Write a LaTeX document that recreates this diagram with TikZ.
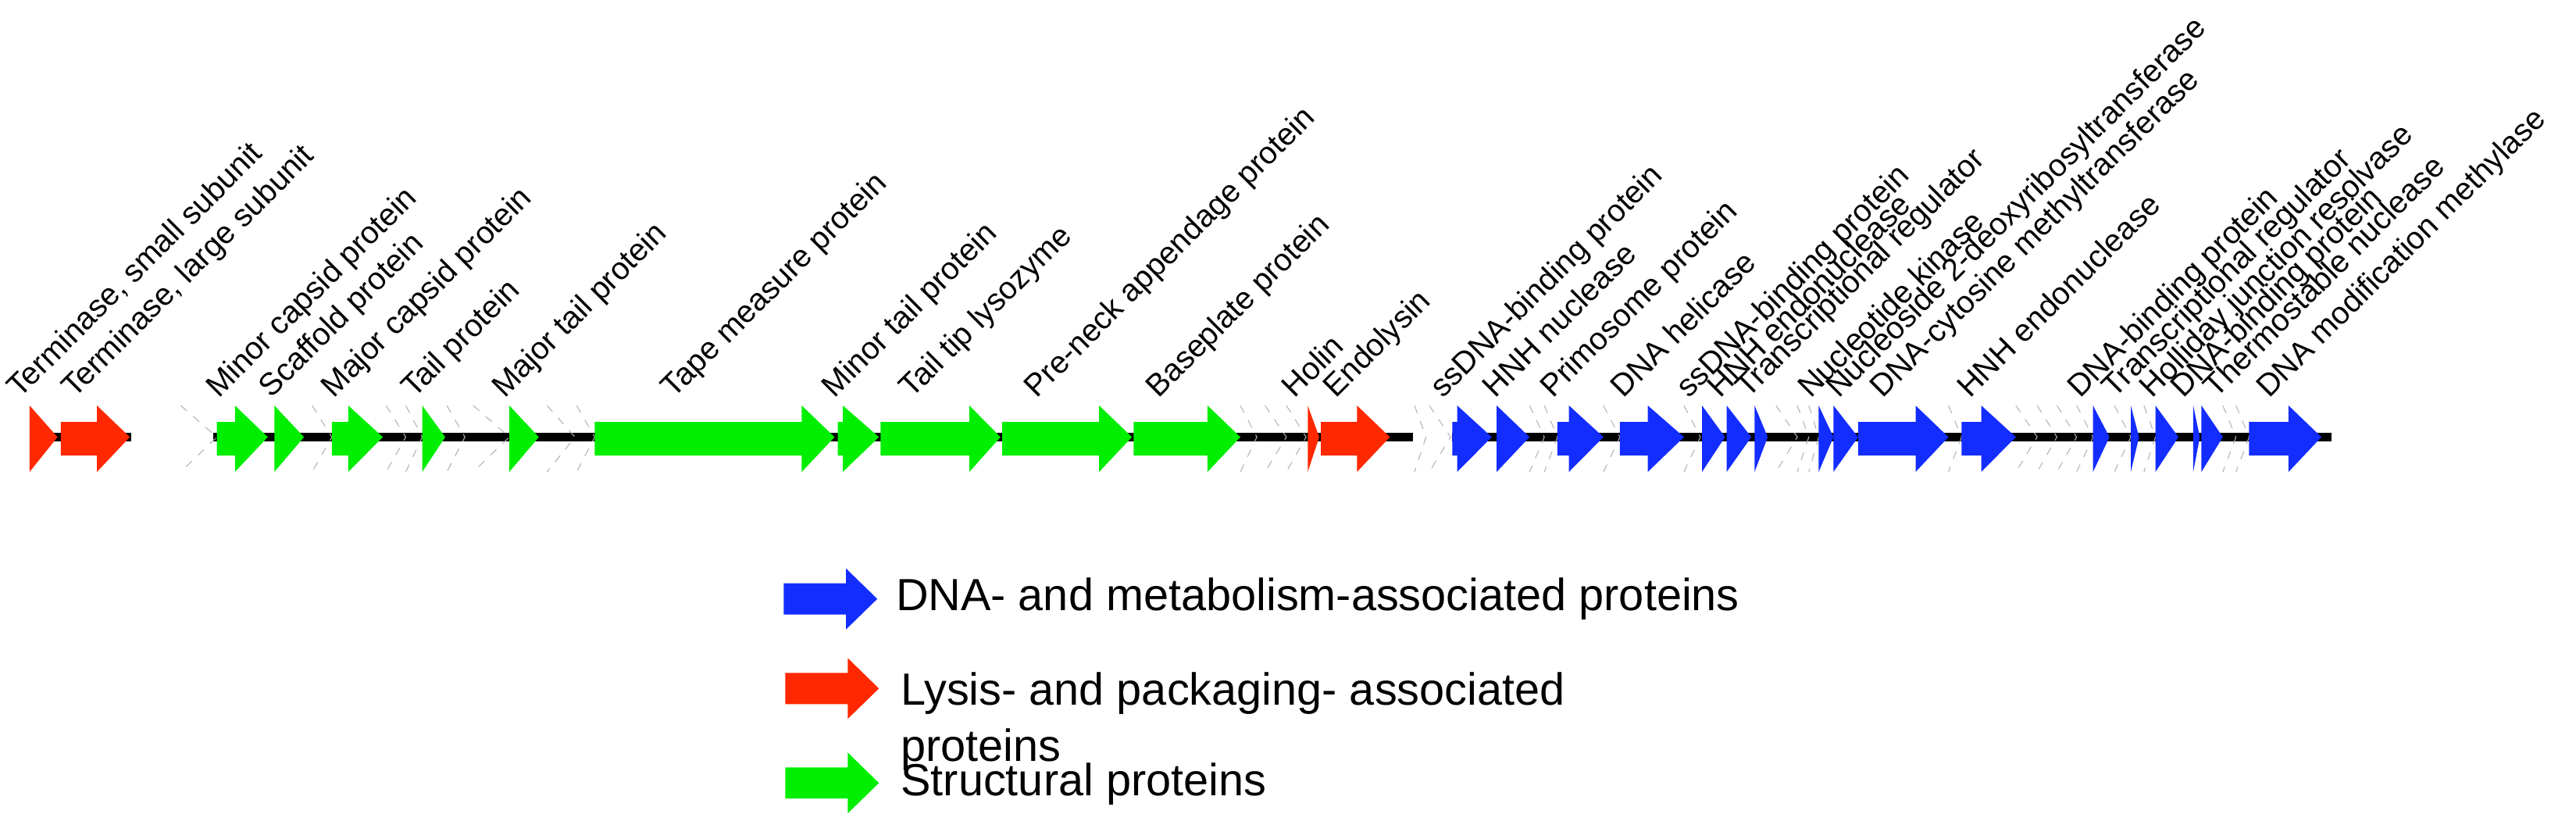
\documentclass[tikz,border=0pt]{standalone}
\usepackage{fontspec}
\setmainfont{Liberation Sans}
\definecolor{gG}{RGB}{0,238,0}
\definecolor{gR}{RGB}{255,40,0}
\definecolor{gB}{RGB}{20,45,255}
\newcommand\gene[4]{\fill[#1] (#2,256.8)--(#3,256.8)--(#3,246.8)--(#4,266)--(#3,287.2)--(#3,277.2)--(#2,277.2)--cycle;}
\newcommand\wgene[2]{\draw[gray!60,line width=0.3pt,dashed] (#1,246.8)--(#2,266)--(#1,287.2);}
\begin{document}
\begin{tikzpicture}[x=0.02103cm,y=-0.02103cm,
  lab/.style={rotate=45,anchor=base west,inner sep=0pt,font=\fontsize{11.4pt}{13pt}\selectfont},
  leg/.style={anchor=west,inner sep=0pt,font=\fontsize{16.4pt}{20pt}\selectfont,align=left}]
\useasboundingbox (0,0) rectangle (1568,506);
% backbone
\fill[black] (18,263.5) rectangle (80,268.5);
\fill[black] (130,263.5) rectangle (860,268.5);
\fill[black] (884,263.5) rectangle (1419,268.5);
% genes
\gene{gR}{18}{18}{35}
\gene{gR}{37}{59}{79}
\wgene{110}{132}
\gene{gG}{132}{143}{163}
\gene{gG}{167}{167}{185}
\wgene{190}{202}
\gene{gG}{202}{212}{233}
\wgene{235}{247}\wgene{247}{257}
\gene{gG}{257}{257}{271}
\wgene{272}{283}\wgene{288}{310}
\gene{gG}{310}{310}{328}
\wgene{333}{350}\wgene{351}{362}
\gene{gG}{362}{488}{508}
\gene{gG}{510}{513}{535}
\gene{gG}{536}{590}{609}
\gene{gG}{610}{669}{689}
\gene{gG}{690}{735}{755}
\wgene{755}{765}\wgene{770}{783}\wgene{783}{795}
\gene{gR}{796}{796}{803}
\gene{gR}{804}{826}{846}
\wgene{861}{868}\wgene{870}{883}
\gene{gB}{884}{887}{908}
\gene{gB}{911}{911}{931}
\wgene{931}{940}\wgene{940}{948}
\gene{gB}{948}{955}{976}
\wgene{976}{986}
\gene{gB}{986}{1003}{1025}
\wgene{1025}{1035}
\gene{gB}{1036}{1036}{1050}
\gene{gB}{1051}{1051}{1066}
\gene{gB}{1068}{1068}{1076}
\wgene{1081}{1094}\wgene{1094}{1101}\wgene{1101}{1107}
\gene{gB}{1107}{1107}{1116}
\gene{gB}{1116}{1116}{1131}
\gene{gB}{1131}{1166}{1186}
\wgene{1186}{1194}
\gene{gB}{1194}{1206}{1227}
\wgene{1227}{1240}\wgene{1240}{1252}\wgene{1252}{1264}\wgene{1264}{1274}
\gene{gB}{1274}{1274}{1284}
\wgene{1287}{1297}
\gene{gB}{1297}{1297}{1302}
\wgene{1305}{1312}
\gene{gB}{1312}{1312}{1326}
\gene{gB}{1335}{1335}{1339}
\gene{gB}{1340}{1340}{1353}
\wgene{1353}{1361}\wgene{1361}{1369}
\gene{gB}{1369}{1393}{1413}
% labels
\node[lab] (l1) at (12,243) {Terminase, small subunit};
\node[lab] (l2) at (45,243) {Terminase, large subunit};
\node[lab] (l3) at (133,243) {Minor capsid protein};
\node[lab] (l4) at (165,243) {Scaffold protein};
\node[lab] (l5) at (203,243) {Major capsid protein};
\node[lab] (l6) at (252,243) {Tail protein};
\node[lab] (l7) at (307,243) {Major tail protein};
\node[lab] (l8) at (410,243) {Tape measure protein};
\node[lab] (l9) at (508,243) {Minor tail protein};
\node[lab] (l10) at (555,243) {Tail tip lysozyme};
\node[lab] (l11) at (631,243) {Pre-neck appendage protein};
\node[lab] (l12) at (705,243) {Baseplate protein};
\node[lab] (l13) at (788,243) {Holin};
\node[lab] (l14) at (813,243) {Endolysin};
\node[lab] (l15) at (878,243) {ssDNA-binding protein};
\node[lab] (l16) at (910,243) {HNH nuclease};
\node[lab] (l17) at (945,243) {Primosome protein};
\node[lab] (l18) at (988,243) {DNA helicase};
\node[lab] (l19) at (1028,243) {ssDNA-binding protein};
\node[lab] (l20) at (1047,243) {HNH endonuclease};
\node[lab] (l21) at (1064,243) {Transcriptional regulator};
\node[lab] (l22) at (1102,243) {Nucleotide kinase};
\node[lab] (l23) at (1119,243) {Nucleoside 2-deoxyribosyltransferase};
\node[lab] (l24) at (1146,243) {DNA-cytosine methyltransferase};
\node[lab] (l25) at (1199,243) {HNH endonuclease};
\node[lab] (l26) at (1266,243) {DNA-binding protein};
\node[lab] (l27) at (1287,243) {Transcriptional regulator};
\node[lab] (l28) at (1310,243) {Holliday junction resolvase};
\node[lab] (l29) at (1329,243) {DNA-binding protein};
\node[lab] (l30) at (1349,243) {Thermostable nuclease};
\node[lab] (l31) at (1381,243) {DNA modification methylase};
% legend
\fill[gB] (477,355)--(515,355)--(515,346)--(534,364.5)--(515,383)--(515,374)--(477,374)--cycle;
\fill[gR] (478,409.5)--(516,409.5)--(516,400.5)--(535,419)--(516,437.5)--(516,428.5)--(478,428.5)--cycle;
\fill[gG] (478,467)--(516,467)--(516,458)--(535,476.5)--(516,495)--(516,486)--(478,486)--cycle;
\node[leg] (k1) at (545,364.5) {DNA- and metabolism-associated proteins};
\node[leg] (k2) at (548,422) {Lysis- and packaging- associated};
\node[leg] (k2b) at (548,456) {proteins};
\node[leg] (k3) at (548,477) {Structural proteins};
\end{tikzpicture}
\end{document}
